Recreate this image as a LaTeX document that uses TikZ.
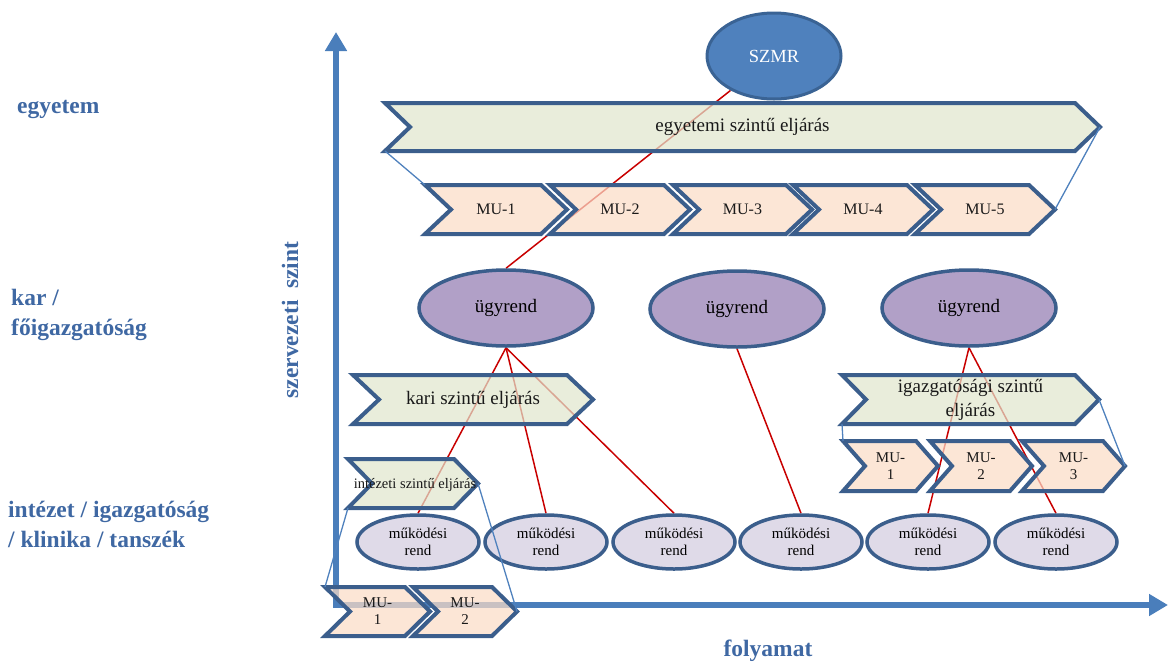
\documentclass[tikz,border=0pt]{standalone}
\usepackage{fontspec}
\setmainfont{Liberation Serif}
\usetikzlibrary{arrows.meta,shapes.geometric}
\definecolor{axisblue}{HTML}{4A7EBB}
\definecolor{chevborder}{HTML}{3B5E8C}
\definecolor{greenfill}{HTML}{E0E6CD}
\definecolor{peach}{HTML}{FBDCC6}
\definecolor{purplefill}{HTML}{B1A0C7}
\definecolor{lavender}{HTML}{DFDAE8}
\definecolor{szmrfill}{HTML}{4F81BD}
\definecolor{szmrborder}{HTML}{3A6394}
\definecolor{redline}{HTML}{C80000}
\definecolor{labelblue}{HTML}{3F68A3}
\definecolor{thinblue}{HTML}{4F81BD}
\pgfdeclarelayer{bg}
\pgfsetlayers{bg,main}
\newcommand\chevron[9]{%
  \path[chev,fill=#7] (#2,#3) -- ({#4-#6},#3) -- (#4,{(#3+#5)/2}) -- ({#4-#6},#5) -- (#2,#5) -- ({#2+#6},{(#3+#5)/2}) -- cycle;
  \coordinate (#1-lt) at (#2,#3);
  \coordinate (#1-lb) at (#2,#5);
  \coordinate (#1-tip) at (#4,{(#3+#5)/2});
  \node[chevtext,#8] (#1) at ({(#2+#4)/2},{(#3+#5)/2}) {#9};
}
\tikzset{
  chev/.style={draw=chevborder, line width=4pt, line join=miter, fill opacity=0.72},
  chevtext/.style={inner sep=0pt, align=center, text=black!90},
  big/.style={font=\fontsize{19}{24}\selectfont},
  mid/.style={font=\fontsize{16}{18}\selectfont},
  small/.style={font=\fontsize{15}{17}\selectfont},
  tiny/.style={font=\fontsize{14.5}{16}\selectfont},
  axis/.style={draw=axisblue, line width=6pt, -{Triangle[width=21pt,length=19pt]}},
  redc/.style={draw=redline, line width=1.5pt},
  bluec/.style={draw=thinblue, line width=1.3pt},
  szmrnode/.style={ellipse, draw=szmrborder, line width=3pt, fill=szmrfill, text=white,
    minimum width=134pt, minimum height=86pt, inner sep=0pt, font=\fontsize{18.5}{22}\selectfont},
  ugy/.style={ellipse, draw=chevborder, line width=3.5pt, fill=purplefill,
    minimum width=174pt, minimum height=76pt, inner sep=0pt, font=\fontsize{19}{22}\selectfont},
  mr/.style={ellipse, draw=chevborder, line width=3.5pt, fill=lavender, align=center,
    minimum width=122pt, minimum height=54pt, inner sep=0pt, font=\fontsize{15}{17}\selectfont},
  lab/.style={inner sep=0pt, anchor=base west, text=labelblue, font=\bfseries\fontsize{23.5}{30}\selectfont},
}
\begin{document}
\begin{tikzpicture}[x=1pt,y=-1pt]
\useasboundingbox (0,0) rectangle (1168,662);
% axes
\coordinate (O) at (336,605);
\coordinate (ytop) at (336,32);
\coordinate (xend) at (1168,605);
\begin{pgfonlayer}{bg}
\draw[axis] (O) -- (ytop);
\draw[axis] ([xshift=-3pt]O) -- (xend);
\end{pgfonlayer}
% ellipses
\node[szmrnode] (szmr) at (774,56) {SZMR};
\node[ugy] (u1) at (506,308) {ügyrend};
\node[ugy] (u2) at (737,309) {ügyrend};
\node[ugy] (u3) at (969,308) {ügyrend};
\node[mr] (m1) at (418,542) {működési\\rend};
\node[mr] (m2) at (546,542) {működési\\rend};
\node[mr] (m3) at (674,542) {működési\\rend};
\node[mr] (m4) at (801,542) {működési\\rend};
\node[mr] (m5) at (928,542) {működési\\rend};
\node[mr] (m6) at (1056,542) {működési\\rend};
% red connectors (behind shapes)
\begin{pgfonlayer}{bg}
\draw[redc] (u1.north) -- (szmr);
\draw[redc] (u1.south) -- (m1.north);
\draw[redc] (u1.south) -- (m2.north);
\draw[redc] (u1.south) -- (m3.north);
\draw[redc] (u2.south) -- (m4.north);
\draw[redc] (u3.south) -- (m5.north);
\draw[redc] (u3.south) -- (m6.north);
\end{pgfonlayer}
% chevrons
\chevron{egy}{385}{103}{1100}{151}{25}{greenfill}{big}{egyetemi szintű eljárás}
\chevron{t1}{425}{185}{567}{234}{26}{peach}{mid}{MU-1}
\chevron{t2}{550}{185}{690}{234}{26}{peach}{mid}{MU-2}
\chevron{t3}{673}{185}{812}{234}{26}{peach}{mid}{MU-3}
\chevron{t4}{793}{185}{933}{234}{26}{peach}{mid}{MU-4}
\chevron{t5}{915}{185}{1055}{234}{26}{peach}{mid}{MU-5}
\chevron{kari}{353}{375}{593}{424}{26}{greenfill}{big}{kari szintű eljárás}
\chevron{int}{348}{459}{478}{508}{24}{greenfill}{tiny}{}
\chevron{igaz}{842}{375}{1099}{424}{24}{greenfill}{big}{igazgatósági szintű\\eljárás}
\chevron{r1}{843}{441}{938}{491}{22}{peach}{small}{MU-\\1}
\chevron{r2}{930}{441}{1032}{491}{22}{peach}{small}{MU-\\2}
\chevron{r3}{1022}{441}{1125}{491}{22}{peach}{small}{MU-\\3}
\chevron{b1}{325}{587}{430}{636}{25}{peach}{small}{MU-\\1}
\chevron{b2}{413}{587}{517}{636}{25}{peach}{small}{MU-\\2}
\node[chevtext,tiny] (intlabel) at (415,485) {intézeti szintű eljárás};
% thin blue connectors
\draw[bluec] (egy-lb) -- (t1-lt);
\draw[bluec] (egy-tip) -- (t5-tip);
\draw[bluec] (int-lb) -- (b1-lt);
\draw[bluec] (int-tip) -- (b2-tip);
\draw[bluec] (igaz-lb) -- (r1-lt);
\draw[bluec] (igaz-tip) -- (r3-tip);
% labels
\node[lab] (l1) at (17,113) {egyetem};
\node[lab] (l2) at (11,305) {kar /};
\node[lab] (l3) at (11,335) {főigazgatóság};
\node[lab] (l4) at (8,517) {intézet / igazgatóság};
\node[lab] (l5) at (8,547) {/ klinika / tanszék};
\node[inner sep=0pt, anchor=base, rotate=90, text=labelblue, font=\bfseries\fontsize{23.5}{30}\selectfont] (yl) at (298,320) {szervezeti\ \ szint};
\node[inner sep=0pt, anchor=base, text=labelblue, font=\bfseries\fontsize{23.5}{30}\selectfont] (xl) at (768,656) {folyamat};
\end{tikzpicture}
\end{document}
